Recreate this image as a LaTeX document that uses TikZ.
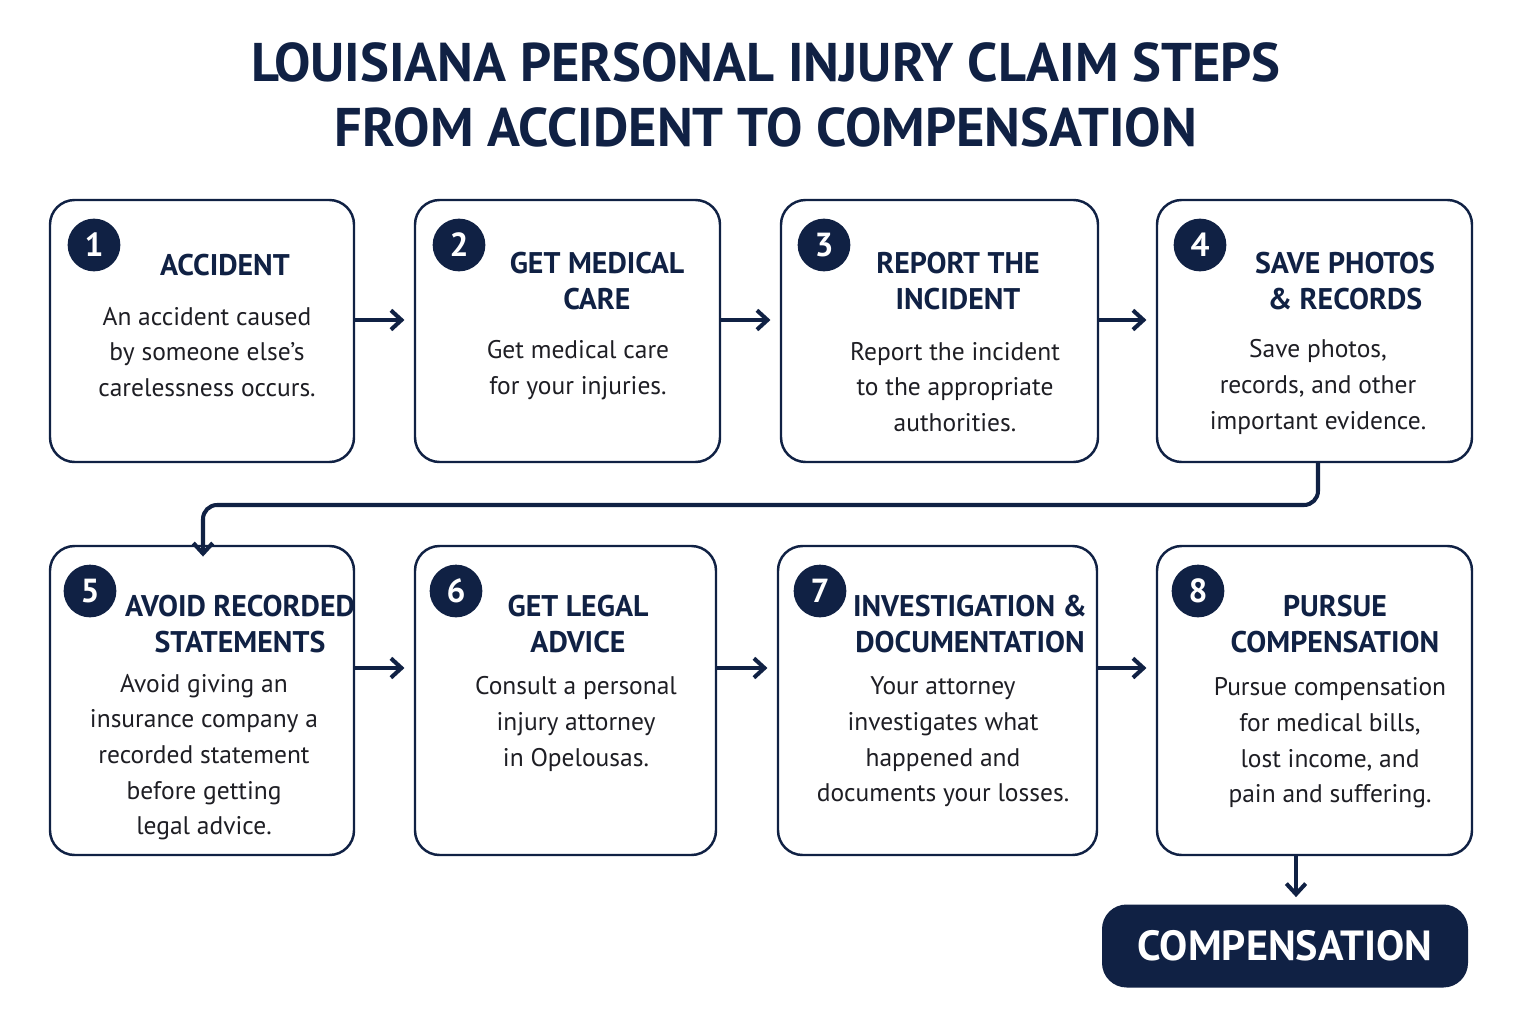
\documentclass[tikz,border=0pt]{standalone}
\usepackage{fontspec}
\setmainfont{PT Sans}
\usetikzlibrary{arrows.meta,positioning}
\definecolor{navy}{RGB}{16,33,68}
\definecolor{bodytext}{RGB}{30,30,36}
\tikzset{
  stepbox/.style = {draw=navy, line width=1.4pt, rounded corners=14pt, fill=white},
  stepnum/.style = {circle, fill=navy, text=white, minimum size=30pt, inner sep=0pt,
    font=\fontsize{19}{19}\selectfont\bfseries},
  steptitle/.style = {align=center, text=navy, inner sep=0pt,
    font=\fontsize{17}{20.5}\selectfont\bfseries},
  stepbody/.style = {align=center, text=bodytext, inner sep=0pt,
    font=\fontsize{14.5}{20.3}\selectfont},
  flow/.style = {draw=navy, line width=2.3pt, -{Straight Barb[length=6pt,width=11pt]}}
}
\begin{document}
\begin{tikzpicture}[x=0.02cm,y=-0.02cm]
  \useasboundingbox[fill=white] (0,0) rectangle (1525,1024);
  % heading
  \node[align=center, text=navy, font=\fontsize{31}{37}\selectfont\bfseries] (head) at (766,95)
    {LOUISIANA PERSONAL INJURY CLAIM STEPS\\FROM ACCIDENT TO COMPENSATION};
  % first row
  \draw[stepbox] (50,200) rectangle (354,462);  \coordinate (b1w) at (50,320);  \coordinate (b1e) at (354,320);
  \draw[stepbox] (415,200) rectangle (720,462); \coordinate (b2w) at (415,320); \coordinate (b2e) at (720,320);
  \draw[stepbox] (781,200) rectangle (1098,462); \coordinate (b3w) at (781,320); \coordinate (b3e) at (1098,320);
  \draw[stepbox] (1157,200) rectangle (1472,462); \coordinate (b4w) at (1157,320); \coordinate (b4s) at (1318,462);
  % second row
  \draw[stepbox] (50,546) rectangle (354,855);  \coordinate (b5n) at (203,546); \coordinate (b5e) at (354,668);
  \draw[stepbox] (415,546) rectangle (716,855); \coordinate (b6w) at (415,668); \coordinate (b6e) at (716,668);
  \draw[stepbox] (778,546) rectangle (1097,855); \coordinate (b7w) at (778,668); \coordinate (b7e) at (1097,668);
  \draw[stepbox] (1157,546) rectangle (1472,855); \coordinate (b8w) at (1157,668); \coordinate (b8s) at (1296,855);
  % final result
  \node[fill=navy, rounded corners=14pt, minimum width=366*0.02cm, minimum height=83*0.02cm,
    text=white, font=\fontsize{24}{24}\selectfont\bfseries] (comp) at (1285,946) {COMPENSATION};

  \node[stepnum] (n1) at (94,245) {1};
  \node[stepnum] (n2) at (459,245) {2};
  \node[stepnum] (n3) at (824,245) {3};
  \node[stepnum] (n4) at (1200,245) {4};
  \node[stepnum] (n5) at (90,591) {5};
  \node[stepnum] (n6) at (456,591) {6};
  \node[stepnum] (n7) at (820,591) {7};
  \node[stepnum] (n8) at (1198,591) {8};

  \node[steptitle] (t1) at (225,265) {ACCIDENT};
  \node[steptitle] (t2) at (597,281) {GET MEDICAL\\CARE};
  \node[steptitle] (t3) at (958,281) {REPORT THE\\INCIDENT};
  \node[steptitle] (t4) at (1345,281) {SAVE PHOTOS\\\& RECORDS};
  \node[steptitle] (t5) at (240,624) {AVOID RECORDED\\STATEMENTS};
  \node[steptitle] (t6) at (578,624) {GET LEGAL\\ADVICE};
  \node[steptitle] (t7) at (970,624) {INVESTIGATION \&\\DOCUMENTATION};
  \node[steptitle] (t8) at (1335,624) {PURSUE\\COMPENSATION};

  \node[stepbody] (d1) at (207,352) {An accident caused\\by someone else’s\\carelessness occurs.};
  \node[stepbody] (d2) at (578,370) {Get medical care\\for your injuries.};
  \node[stepbody] (d3) at (955,387) {Report the incident\\to the appropriate\\authorities.};
  \node[stepbody] (d4) at (1318,387) {Save photos,\\records, and other\\important evidence.};
  \node[stepbody] (d5) at (204,757) {Avoid giving an\\insurance company a\\recorded statement\\before getting\\legal advice.};
  \node[stepbody] (d6) at (576,724) {Consult a personal\\injury attorney\\in Opelousas.};
  \node[stepbody] (d7) at (943,742) {Your attorney\\investigates what\\happened and\\documents your losses.};
  \node[stepbody] (d8) at (1330,743) {Pursue compensation\\for medical bills,\\lost income, and\\pain and suffering.};

  % connectors
  \draw[flow] (b1e) -- ([xshift=-6]b2w);
  \draw[flow] (b2e) -- ([xshift=-6]b3w);
  \draw[flow] (b3e) -- ([xshift=-6]b4w);
  \draw[flow, rounded corners=8pt] (b4s) -- (1318,505) -- (203,505) -- ([yshift=-6]b5n);
  \draw[flow] (b5e) -- ([xshift=-6]b6w);
  \draw[flow] (b6e) -- ([xshift=-6]b7w);
  \draw[flow] (b7e) -- ([xshift=-6]b8w);
  \draw[flow] (b8s) -- ([yshift=4]comp.north -| b8s);
\end{tikzpicture}
\end{document}
